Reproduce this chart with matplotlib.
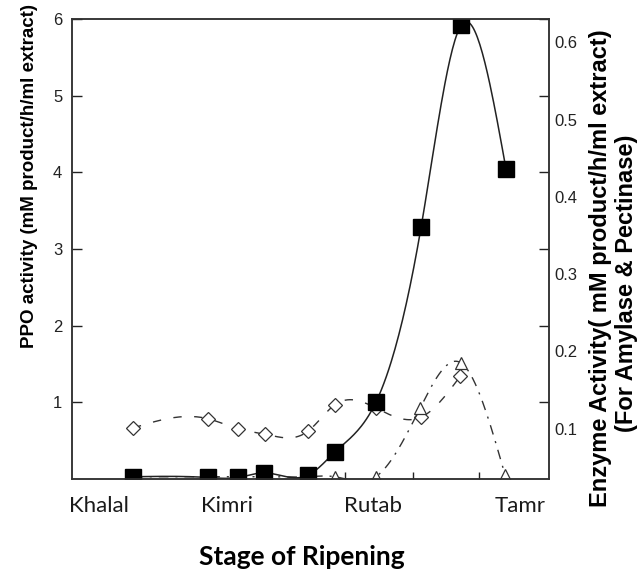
import matplotlib
matplotlib.use("Agg")
import matplotlib.pyplot as plt
import numpy as np

# sampling points along ripening (arbitrary position units, 0-100)
x_ppo = [12.8, 28.5, 34.8, 40.3, 49.5, 55.1, 63.7, 73.2, 81.6, 91.0]
ppo = [0.03, 0.02, 0.02, 0.08, 0.05, 0.35, 1.00, 3.29, 5.92, 4.04]

x_diamond = [12.8, 28.5, 34.8, 40.5, 49.5, 55.1, 63.7, 73.2, 81.4]
diamond = [0.101, 0.113, 0.100, 0.093, 0.097, 0.131, 0.127, 0.115, 0.168]

x_triangle = [12.8, 28.5, 34.8, 40.3, 49.5, 55.1, 63.7, 73.0, 81.6, 90.8]
triangle = [0.038, 0.038, 0.038, 0.038, 0.038, 0.038, 0.038, 0.127, 0.185, 0.040]

stages = ["Khalal", "Kimri", "Rutab", "Tamr"]
stage_pos = [5.7, 32.5, 63.1, 93.9]
minor_x = [57.2, 71.5, 85.3]

left_ticks = [1, 2, 3, 4, 5, 6]
right_ticks = [0.1, 0.2, 0.3, 0.4, 0.5, 0.6]


def spline(x, y, n=300):
    # natural cubic spline, only used to draw the smooth connecting line
    x = np.asarray(x, float)
    y = np.asarray(y, float)
    h = np.diff(x)
    m = len(x)
    A = np.zeros((m, m))
    r = np.zeros(m)
    A[0, 0] = A[-1, -1] = 1
    for i in range(1, m - 1):
        A[i, i - 1] = h[i - 1]
        A[i, i] = 2 * (h[i - 1] + h[i])
        A[i, i + 1] = h[i]
        r[i] = 3 * ((y[i + 1] - y[i]) / h[i] - (y[i] - y[i - 1]) / h[i - 1])
    c = np.linalg.solve(A, r)
    b = (y[1:] - y[:-1]) / h - h * (2 * c[:-1] + c[1:]) / 3
    d = (c[1:] - c[:-1]) / (3 * h)
    xs = np.linspace(x[0], x[-1], n)
    i = np.clip(np.searchsorted(x, xs) - 1, 0, m - 2)
    t = xs - x[i]
    return xs, y[i] + b[i] * t + c[i] * t ** 2 + d[i] * t ** 3


plt.rcParams['font.family'] = ['Liberation Sans', 'DejaVu Sans']

fig = plt.figure(figsize=(6.4, 5.7), dpi=100)
ax = fig.add_axes([0.1125, 0.1596, 0.7453, 0.807])
ax2 = ax.twinx()

# amylase / pectinase on right axis
xs, ys = spline(x_diamond, diamond)
ax2.plot(xs, ys, color='#333333', lw=1.0, dashes=(6, 9))
ax2.plot(x_diamond, diamond, 'D', ms=7, mfc='white', mec='#333333', mew=0.9)
xs, ys = spline(x_triangle, triangle)
ax2.plot(xs, ys, color='#333333', lw=1.0, dashes=(7, 5, 1.5, 5))
ax2.plot(x_triangle, triangle, '^', ms=9, mfc='white', mec='#333333', mew=0.9)

# PPO on left axis, drawn above
ax.set_zorder(ax2.get_zorder() + 1)
ax.patch.set_visible(False)
xs, ys = spline(x_ppo, ppo)
ax.plot(xs, ys, color='#222222', lw=1.1)
ax.plot(x_ppo, ppo, 's', ms=11.5, color='black')

ax.set_xlim(0, 100)
ax.set_ylim(0, 6)
ax2.set_ylim(0.035, 0.63)

ax.set_yticks(left_ticks)
ax.set_yticklabels([str(v) for v in left_ticks])
ax.tick_params(axis='y', direction='in', length=7, width=1, right=True,
               labelsize=12, pad=7, colors='#222222')
ax.set_xticks(minor_x)
ax.set_xticklabels([])
ax.tick_params(axis='x', direction='in', length=5, width=1, colors='#222222')
ax.set_xticks(stage_pos, minor=True)
ax.set_xticklabels(stages, minor=True, fontfamily='Lato', fontsize=16,
                   color='#1a1a1a')
ax.tick_params(axis='x', which='minor', length=0, pad=12)

ax2.set_yticks(right_ticks)
ax2.set_yticklabels([str(v) for v in right_ticks])
ax2.tick_params(axis='y', length=0, labelsize=12, pad=4, colors='#222222')

for a in (ax, ax2):
    for s in a.spines.values():
        s.set_linewidth(1.1)
        s.set_color('#333333')

fig.text(30 / 640, 1 - 176 / 570, "PPO activity (mM product/h/ml extract)",
         rotation=90, ha='center', va='center', fontsize=13.5,
         fontweight='bold')
fig.text(600 / 640, 1 - 268 / 570, "Enzyme Activity( mM product/h/ml extract)",
         rotation=90, ha='center', va='center', fontsize=17,
         fontweight='bold')
fig.text(627 / 640, 1 - 283 / 570, "(For Amylase & Pectinase)",
         rotation=90, ha='center', va='center', fontsize=17,
         fontweight='bold')
fig.text(302 / 640, 1 - 557 / 570, "Stage of Ripening", ha='center',
         va='center', fontfamily='Lato', fontsize=19, fontweight='bold')

fig.savefig("out.png", dpi=100)
